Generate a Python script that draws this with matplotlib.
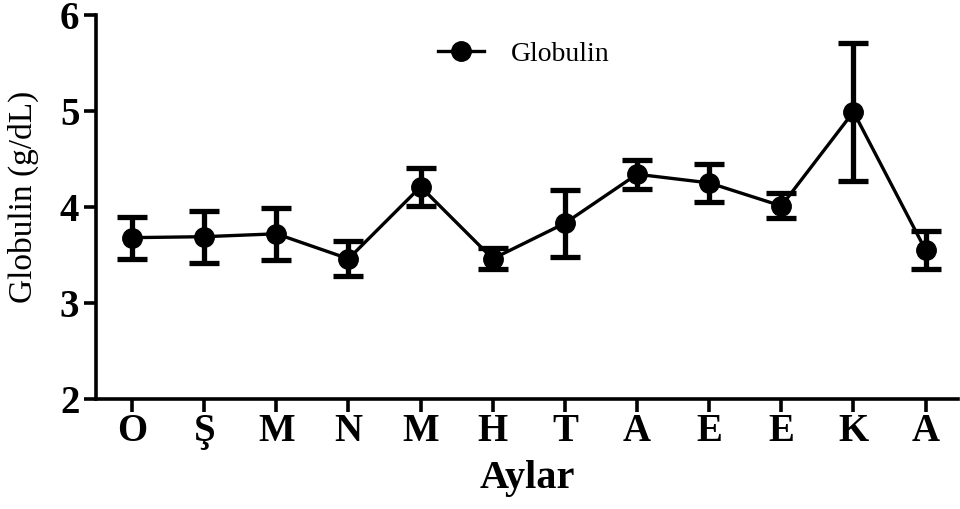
import matplotlib
matplotlib.use("Agg")
import matplotlib.pyplot as plt

# ── Data ─────────────────────────────────────────────────────────────────────
months = ["O", "Ş", "M", "N", "M", "H", "T", "A", "E", "E", "K", "A"]
globulin = [3.68, 3.69, 3.72, 3.46, 4.21, 3.46, 3.83, 4.34, 4.25, 4.01, 4.99, 3.55]
globulin_err = [0.22, 0.27, 0.27, 0.18, 0.20, 0.11, 0.35, 0.15, 0.20, 0.13, 0.72, 0.20]

SERIF = ["Liberation Serif", "DejaVu Serif"]

fig = plt.figure(figsize=(9.6, 5.09), dpi=100)
ax = fig.add_axes([0.1, 0.216, 0.898, 0.755])

x = list(range(len(months)))
# error bars first, then the line + markers (legend shows only the line)
ax.errorbar(x, globulin, yerr=globulin_err, fmt="none", ecolor="black",
            elinewidth=3.8, capsize=11, capthick=3.8, zorder=3)
ax.plot(x, globulin, color="black", lw=2.4, marker="o", markersize=14,
        label="Globulin", zorder=4)

ax.set_xlim(-0.5, 11.45)
ax.set_ylim(2, 6)
ax.set_yticks([2, 3, 4, 5, 6])
ax.set_xticks(x)
ax.set_xticklabels(months)

for s in ["top", "right"]:
    ax.spines[s].set_visible(False)
for s in ["left", "bottom"]:
    ax.spines[s].set_linewidth(2.6)

ax.tick_params(axis="both", width=2.6, length=9, pad=3)
ax.tick_params(axis="x", pad=1)
for lab in ax.get_xticklabels() + ax.get_yticklabels():
    lab.set_family(SERIF)
    lab.set_fontweight("bold")
    lab.set_fontsize(28)

ax.set_xlabel("Aylar", family=SERIF, fontweight="bold", fontsize=29, labelpad=7)
ax.set_ylabel("Globulin (g/dL)", family=SERIF, fontsize=24)
ax.yaxis.set_label_coords(-0.066, 0.526)

ax.legend(loc="upper center", bbox_to_anchor=(0.496, 0.995), frameon=False,
          prop={"family": SERIF, "size": 20}, handlelength=1.65,
          handletextpad=0.97)

fig.savefig("out.png", dpi=100, facecolor="white")
